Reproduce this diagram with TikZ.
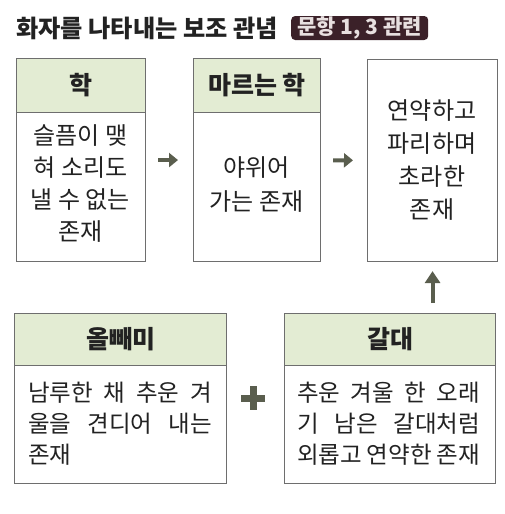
\documentclass[tikz,border=0pt]{standalone}
\usepackage{fontspec}
\setmainfont{Noto Sans CJK KR}
\usetikzlibrary{arrows.meta}
\definecolor{hdr}{HTML}{E3ECD3}
\definecolor{bd}{HTML}{6E6E6E}
\definecolor{arrc}{HTML}{5A5E4E}
\definecolor{badgec}{HTML}{3B2129}
\definecolor{badget}{HTML}{E8E0E0}
\definecolor{ink}{HTML}{222222}
\begin{document}
\begin{tikzpicture}[x=1pt,y=-1pt,
  frame/.style={draw=bd, line width=1.1pt, fill=white, inner sep=0pt, anchor=north west},
  headbox/.style={draw=bd, line width=1.1pt, fill=hdr, inner sep=0pt, anchor=north west,
    font=\fontsize{25}{28}\selectfont\bfseries, text=ink},
  bodytext/.style={font=\fontsize{24}{32}\selectfont, text=ink, align=center, inner sep=0pt},
  bodyleft/.style={font=\fontsize{23.5}{31}\selectfont, text=ink, align=left, inner sep=0pt},
  arr/.style={draw=arrc, line width=4pt, -{Triangle[length=9pt,width=14pt]}},
]
\useasboundingbox (0,0) rectangle (504,514);
\fill[white] (0,0) rectangle (504,514);

% title
\node[anchor=west, inner sep=0pt, text=ink, font=\fontsize{24.2}{28}\selectfont\bfseries] (title) at (16,28) {화자를 나타내는 보조 관념};
\node[anchor=west, fill=badgec, text=badget, rounded corners=4pt, minimum width=137pt, minimum height=24pt, inner sep=0pt,
  font=\fontsize{21}{24}\selectfont\bfseries] (badge) at (291,28) {문항 1, 3 관련};

% top row
\node[frame, minimum width=129pt, minimum height=203pt] (b1) at (16,58) {};
\node[headbox, minimum width=129pt, minimum height=54pt] (h1) at (16,58) {학};
\node[bodytext] (t1) at (80.5,184) {슬픔이 맺\\혀 소리도\\낼 수 없는\\존재};

\node[frame, minimum width=127pt, minimum height=203pt] (b2) at (193,58) {};
\node[headbox, minimum width=127pt, minimum height=54pt] (h2) at (193,58) {마르는 학};
\node[bodytext, font=\fontsize{24}{34}\selectfont] (t2) at (256.5,185) {야위어\\가는 존재};

\node[frame, minimum width=130pt, minimum height=202pt] (b3) at (367,59) {};
\node[bodytext, font=\fontsize{24}{33}\selectfont] (t3) at (432,160) {연약하고\\파리하며\\초라한\\존재};

% bottom row
\node[frame, minimum width=212pt, minimum height=170pt] (b4) at (14,313) {};
\node[headbox, minimum width=212pt, minimum height=52pt] (h4) at (14,313) {올빼미};
\node[bodyleft] (t4) at (120,424) {\makebox[184pt][s]{남루한 채 추운 겨}\\\makebox[184pt][s]{울을 견디어 내는}\\존재};

\node[frame, minimum width=211pt, minimum height=170pt] (b5) at (284,313) {};
\node[headbox, minimum width=211pt, minimum height=52pt] (h5) at (284,313) {갈대};
\node[bodyleft] (t5) at (388.5,424) {\makebox[183pt][s]{추운 겨울 한 오래}\\\makebox[183pt][s]{기 남은 갈대처럼}\\\makebox[183pt][s]{외롭고 연약한 존재}};

% connectors
\draw[arr, shorten <=12pt, shorten >=15pt] (b1) -- (b2);
\draw[arr, shorten <=12pt, shorten >=14pt] (b2) -- (b3);
\draw[arr, -{Triangle[length=12pt,width=15pt]}, shorten <=10pt, shorten >=9pt] (b3.south |- b5.north) -- (b3.south);

% plus
\node[inner sep=0pt, minimum size=23pt] (plus) at (253,398) {};
\draw[arrc, line width=7pt] (plus.west) -- (plus.east);
\draw[arrc, line width=7pt] (plus.north) -- (plus.south);
\end{tikzpicture}
\end{document}
